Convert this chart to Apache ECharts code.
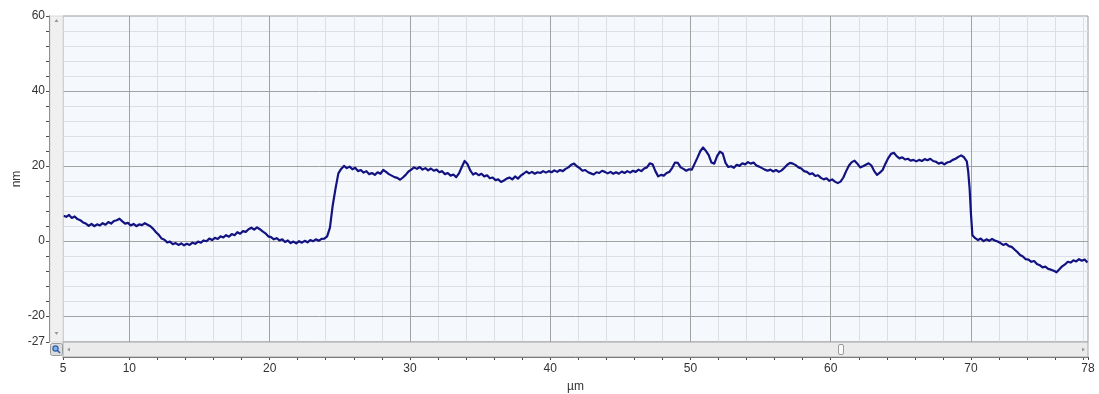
<!DOCTYPE html>
<html>
<head>
<meta charset="utf-8">
<title>Height profile</title>
<script src="https://cdn.jsdelivr.net/npm/echarts@6/dist/echarts.min.js"></script>
<style>
  html, body { margin: 0; padding: 0; background: #ffffff; }
  #chart { width: 1099px; height: 394px; }
</style>
</head>
<body>
<div id="chart"></div>
<script>
// Scan range of the profile (µm) and height range (nm)
const xRange = [5.27, 78.34];
const yRange = [-27, 60];

// Tick labels
const xLabelValues = [5.27, 10, 20, 30, 40, 50, 60, 70, 78.34];
const yLabelValues = [-27, -20, 0, 20, 40, 60];

// Tick marks
const xTickValues = [5.27, 10, 12, 14, 16, 18, 20, 22, 24, 26, 28, 30, 32, 34, 36, 38, 40, 42, 44, 46, 48, 50,
  52, 54, 56, 58, 60, 62, 64, 66, 68, 70, 72, 74, 76, 78, 78.34];
const yTickValues = [-27, -20, -16, -12, -8, -4, 0, 4, 8, 12, 16, 20, 24, 28, 32, 36, 40, 44, 48, 52, 56, 60];

// Grid lines
const xMajorGrid = [10, 20, 30, 40, 50, 60, 70];
const xMinorGrid = [12, 14, 16, 18, 22, 24, 26, 28, 32, 34, 36, 38, 42, 44, 46, 48, 52, 54, 56, 58,
  62, 64, 66, 68, 72, 74, 76, 78];
const yMajorGrid = [-20, 0, 20, 40];
const yMinorGrid = [-16, -12, -8, -4, 4, 8, 12, 16, 24, 28, 32, 36, 44, 48, 52, 56];

// Measured height profile: [position µm, height nm]
const profile = [
  [5.3, 6.7], [5.5, 6.4], [5.7, 6.9], [5.9, 6.1], [6.1, 6.5], [6.3, 5.8], [6.5, 5.5], [6.7, 4.9], [6.9, 4.6], [7.1, 4.0],
  [7.3, 4.5], [7.5, 3.9], [7.7, 4.4], [7.9, 4.1], [8.1, 4.7], [8.3, 4.3], [8.5, 5.0], [8.7, 4.6], [8.9, 5.3], [9.1, 5.5],
  [9.3, 5.9], [9.5, 5.2], [9.7, 4.6], [9.9, 4.8], [10.1, 4.1], [10.3, 4.5], [10.5, 3.9], [10.7, 4.4], [10.9, 4.2], [11.1, 4.7],
  [11.3, 4.3], [11.5, 3.9], [11.7, 3.2], [11.9, 2.3], [12.1, 1.6], [12.3, 0.6], [12.5, 0.3], [12.7, -0.4], [12.9, -0.2], [13.1, -0.9],
  [13.3, -0.6], [13.5, -1.1], [13.7, -0.7], [13.9, -1.2], [14.1, -0.8], [14.3, -1.1], [14.5, -0.5], [14.7, -0.8], [14.9, -0.2], [15.1, -0.5],
  [15.3, 0.1], [15.5, -0.1], [15.7, 0.6], [15.9, 0.2], [16.1, 0.8], [16.3, 0.5], [16.5, 1.2], [16.7, 0.9], [16.9, 1.5], [17.1, 1.1],
  [17.3, 1.8], [17.5, 1.5], [17.7, 2.3], [17.9, 1.9], [18.1, 2.6], [18.3, 2.4], [18.5, 3.1], [18.7, 3.5], [18.9, 3.0], [19.1, 3.6],
  [19.3, 3.1], [19.5, 2.5], [19.7, 2.0], [19.9, 1.2], [20.1, 1.0], [20.3, 0.4], [20.5, 0.7], [20.7, 0.1], [20.9, 0.4], [21.1, -0.3],
  [21.3, 0.1], [21.5, -0.6], [21.7, -0.2], [21.9, -0.7], [22.1, -0.1], [22.3, -0.5], [22.5, 0.0], [22.7, -0.4], [22.9, 0.2], [23.1, -0.1],
  [23.3, 0.4], [23.5, 0.0], [23.7, 0.5], [23.9, 0.6], [24.1, 1.2], [24.3, 3.5], [24.5, 9.5], [24.7, 14.0], [24.9, 18.0], [25.1, 19.2],
  [25.3, 20.0], [25.5, 19.4], [25.7, 19.8], [25.9, 19.1], [26.1, 19.5], [26.3, 18.6], [26.5, 18.9], [26.7, 18.2], [26.9, 18.6], [27.1, 17.8],
  [27.3, 18.1], [27.5, 17.6], [27.7, 18.3], [27.9, 17.9], [28.1, 18.9], [28.3, 18.4], [28.5, 17.8], [28.7, 17.4], [28.9, 17.0], [29.1, 16.8],
  [29.3, 16.3], [29.5, 16.9], [29.7, 17.6], [29.9, 18.5], [30.1, 19.0], [30.3, 19.6], [30.5, 19.2], [30.7, 19.7], [30.9, 19.0], [31.1, 19.4],
  [31.3, 18.8], [31.5, 19.3], [31.7, 18.7], [31.9, 19.0], [32.1, 18.3], [32.3, 18.6], [32.5, 17.8], [32.7, 18.1], [32.9, 17.4], [33.1, 17.7],
  [33.3, 17.0], [33.5, 18.0], [33.7, 19.7], [33.9, 21.3], [34.1, 20.5], [34.3, 18.8], [34.5, 17.7], [34.7, 18.1], [34.9, 17.5], [35.1, 17.9],
  [35.3, 17.2], [35.5, 17.5], [35.7, 16.7], [35.9, 16.9], [36.1, 16.2], [36.3, 16.4], [36.5, 15.7], [36.7, 16.1], [36.9, 16.6], [37.1, 16.9],
  [37.3, 16.4], [37.5, 17.2], [37.7, 16.6], [37.9, 17.4], [38.1, 17.9], [38.3, 18.5], [38.5, 18.0], [38.7, 18.4], [38.9, 17.9], [39.1, 18.3],
  [39.3, 18.1], [39.5, 18.6], [39.7, 18.2], [39.9, 18.6], [40.1, 18.3], [40.3, 18.8], [40.5, 18.4], [40.7, 18.9], [40.9, 18.6], [41.1, 19.2],
  [41.3, 19.6], [41.5, 20.3], [41.7, 20.6], [41.9, 19.9], [42.1, 19.4], [42.3, 18.7], [42.5, 18.9], [42.7, 18.3], [42.9, 18.0], [43.1, 17.7],
  [43.3, 18.3], [43.5, 18.1], [43.7, 18.7], [43.9, 18.4], [44.1, 18.0], [44.3, 18.4], [44.5, 17.9], [44.7, 18.3], [44.9, 17.9], [45.1, 18.5],
  [45.3, 18.1], [45.5, 18.6], [45.7, 18.2], [45.9, 18.7], [46.1, 18.4], [46.3, 19.0], [46.5, 18.6], [46.7, 19.3], [46.9, 19.6], [47.1, 20.7],
  [47.3, 20.4], [47.5, 18.6], [47.7, 17.2], [47.9, 17.6], [48.1, 17.4], [48.3, 18.1], [48.5, 18.4], [48.7, 19.5], [48.9, 20.9], [49.1, 20.8],
  [49.3, 19.6], [49.5, 19.2], [49.7, 18.7], [49.9, 19.1], [50.1, 19.0], [50.3, 20.6], [50.5, 22.2], [50.7, 23.9], [50.9, 24.9], [51.1, 24.0],
  [51.3, 22.9], [51.5, 20.9], [51.7, 20.6], [51.9, 22.6], [52.1, 23.8], [52.3, 23.3], [52.5, 20.8], [52.7, 19.7], [52.9, 19.9], [53.1, 19.5],
  [53.3, 20.3], [53.5, 20.0], [53.7, 20.7], [53.9, 20.4], [54.1, 21.0], [54.3, 20.6], [54.5, 20.9], [54.7, 20.1], [54.9, 19.8], [55.1, 19.4],
  [55.3, 19.0], [55.5, 18.7], [55.7, 19.0], [55.9, 18.5], [56.1, 18.9], [56.3, 18.4], [56.5, 18.8], [56.7, 19.5], [56.9, 20.3], [57.1, 20.8],
  [57.3, 20.6], [57.5, 20.2], [57.7, 19.6], [57.9, 19.3], [58.1, 18.6], [58.3, 18.4], [58.5, 17.8], [58.7, 18.0], [58.9, 17.3], [59.1, 17.5],
  [59.3, 16.8], [59.5, 16.4], [59.7, 16.7], [59.9, 16.0], [60.1, 16.4], [60.3, 15.8], [60.5, 15.4], [60.7, 15.8], [60.9, 16.9], [61.1, 18.6],
  [61.3, 20.1], [61.5, 21.0], [61.7, 21.4], [61.9, 20.6], [62.1, 19.6], [62.3, 19.9], [62.5, 20.3], [62.7, 20.7], [62.9, 20.1], [63.1, 18.6],
  [63.3, 17.6], [63.5, 18.2], [63.7, 18.9], [63.9, 20.6], [64.1, 22.1], [64.3, 23.2], [64.5, 23.5], [64.7, 22.6], [64.9, 22.0], [65.1, 22.3],
  [65.3, 21.7], [65.5, 21.9], [65.7, 21.4], [65.9, 21.6], [66.1, 21.2], [66.3, 21.6], [66.5, 21.3], [66.7, 21.8], [66.9, 21.5], [67.1, 21.9],
  [67.3, 21.3], [67.5, 21.1], [67.7, 20.6], [67.9, 20.9], [68.1, 20.4], [68.3, 20.9], [68.5, 21.1], [68.7, 21.6], [68.9, 21.9], [69.1, 22.4],
  [69.3, 22.8], [69.5, 22.3], [69.7, 21.2], [69.8, 18.5], [69.9, 14.0], [70.0, 7.0], [70.1, 1.5], [70.3, 0.7], [70.5, 0.2], [70.7, 0.6],
  [70.9, -0.1], [71.1, 0.4], [71.3, 0.0], [71.5, 0.5], [71.7, 0.1], [71.9, -0.2], [72.1, -0.6], [72.3, -1.1], [72.5, -0.8], [72.7, -1.4],
  [72.9, -1.6], [73.1, -2.3], [73.3, -3.0], [73.5, -3.8], [73.7, -4.2], [73.9, -4.9], [74.1, -5.0], [74.3, -5.6], [74.5, -5.4], [74.7, -6.2],
  [74.9, -6.5], [75.1, -7.1], [75.3, -6.9], [75.5, -7.5], [75.7, -7.7], [75.9, -8.0], [76.1, -8.4], [76.3, -7.6], [76.5, -6.8], [76.7, -6.3],
  [76.9, -5.6], [77.1, -5.8], [77.3, -5.2], [77.5, -5.5], [77.7, -4.9], [77.9, -5.3], [78.1, -5.0], [78.3, -5.8]
];

const GRID = { left: 63, right: 11, top: 16, bottom: 52 };
const LABEL_FONT = { fontFamily: 'Liberation Sans, Arial, sans-serif', fontSize: 12, color: '#333333' };

function gridLines(values, key, color) {
  return {
    silent: true,
    symbol: ['none', 'none'],
    animation: false,
    label: { show: false },
    emphasis: { disabled: true },
    lineStyle: { color: color, width: 1, type: 'solid' },
    data: values.map(v => ({ [key]: v }))
  };
}

const chart = echarts.init(document.getElementById('chart'), null, { renderer: 'canvas' });

const W = 1099, H = 394;
const plotL = GRID.left, plotR = W - GRID.right, plotT = GRID.top, plotB = H - GRID.bottom;

chart.setOption({
  animation: false,
  backgroundColor: '#ffffff',
  grid: {
    left: GRID.left, right: GRID.right, top: GRID.top, bottom: GRID.bottom,
    containLabel: false, outerBoundsMode: 'none',
    show: true, backgroundColor: '#f5f9fd', borderColor: '#9a9a9a', borderWidth: 1
  },
  xAxis: {
    type: 'value',
    min: xRange[0], max: xRange[1],
    offset: 15,
    name: 'µm', nameLocation: 'middle', nameGap: 24,
    nameTextStyle: LABEL_FONT,
    axisLine: { show: true, onZero: false, lineStyle: { color: '#4a4a4a', width: 1 } },
    axisTick: { show: true, length: 3, inside: false, customValues: xTickValues, lineStyle: { color: '#4a4a4a' } },
    axisLabel: Object.assign({
      margin: 6, customValues: xLabelValues,
      formatter: v => String(Math.round(v))
    }, LABEL_FONT),
    splitLine: { show: false }
  },
  yAxis: {
    type: 'value',
    min: yRange[0], max: yRange[1],
    offset: 14,
    name: 'nm', nameLocation: 'middle', nameGap: 26, nameMoveOverlap: false,
    nameTextStyle: LABEL_FONT,
    axisLine: { show: true, onZero: false, lineStyle: { color: '#4a4a4a', width: 1 } },
    axisTick: { show: true, length: 3, customValues: yTickValues, lineStyle: { color: '#4a4a4a' } },
    axisLabel: Object.assign({ margin: 4, customValues: yLabelValues }, LABEL_FONT),
    splitLine: { show: false }
  },
  graphic: [
    // vertical scroll strip on the left of the plot
    { type: 'rect', silent: true, z: 10,
      shape: { x: 50, y: plotT, width: plotL - 50, height: plotB - plotT },
      style: { fill: '#f0f0f0', stroke: '#d8d8d8', lineWidth: 1 } },
    { type: 'polygon', silent: true, z: 11,
      shape: { points: [[56.5, 19], [54.5, 22], [58.5, 22]] }, style: { fill: '#9a9a9a' } },
    { type: 'polygon', silent: true, z: 11,
      shape: { points: [[54.5, 332], [58.5, 332], [56.5, 335]] }, style: { fill: '#9a9a9a' } },
    // horizontal scroll strip under the plot
    { type: 'rect', silent: true, z: 10,
      shape: { x: plotL, y: plotB, width: plotR - plotL, height: 15 },
      style: { fill: '#ebebeb', stroke: '#a8a8a8', lineWidth: 1 } },
    { type: 'polygon', silent: true, z: 11,
      shape: { points: [[67, 349.5], [70, 347.5], [70, 351.5]] }, style: { fill: '#9a9a9a' } },
    { type: 'polygon', silent: true, z: 11,
      shape: { points: [[1082, 347.5], [1085, 349.5], [1082, 351.5]] }, style: { fill: '#9a9a9a' } },
    { type: 'rect', silent: true, z: 11,
      shape: { x: 838.5, y: 344.5, width: 5, height: 10, r: 1.5 },
      style: { fill: '#fafafa', stroke: '#9a9a9a', lineWidth: 1 } },
    // zoom button in the corner
    { type: 'rect', silent: true, z: 11,
      shape: { x: 50.5, y: 343.5, width: 12, height: 12, r: 2 },
      style: { fill: '#dcdcdc', stroke: '#9a9a9a', lineWidth: 1 } },
    { type: 'circle', silent: true, z: 12,
      shape: { cx: 55.5, cy: 348.5, r: 2.6 },
      style: { fill: '#7fb2e6', stroke: '#2a5fa8', lineWidth: 1.2 } },
    { type: 'line', silent: true, z: 12,
      shape: { x1: 57.5, y1: 350.5, x2: 60, y2: 353 },
      style: { stroke: '#2a5fa8', lineWidth: 1.6 } }
  ],
  series: [
    {
      name: 'grid-minor', type: 'line', data: [], z: 1, silent: true,
      markLine: Object.assign(gridLines(xMinorGrid, 'xAxis', '#dcdfe3'), { z: 1 })
    },
    {
      name: 'grid-minor-h', type: 'line', data: [], z: 1, silent: true,
      markLine: Object.assign(gridLines(yMinorGrid, 'yAxis', '#dcdfe3'), { z: 1 })
    },
    {
      name: 'grid-major', type: 'line', data: [], z: 2, silent: true,
      markLine: Object.assign(gridLines(xMajorGrid, 'xAxis', '#a2a2a2'), { z: 2 })
    },
    {
      name: 'grid-major-h', type: 'line', data: [], z: 2, silent: true,
      markLine: Object.assign(gridLines(yMajorGrid, 'yAxis', '#a2a2a2'), { z: 2 })
    },
    {
      name: 'profile', type: 'line', data: profile, z: 5,
      showSymbol: false, symbol: 'none', smooth: false,
      lineStyle: { color: '#121280', width: 2.2, join: 'round' },
      emphasis: { disabled: true }
    }
  ]
});
</script>
</body>
</html>
